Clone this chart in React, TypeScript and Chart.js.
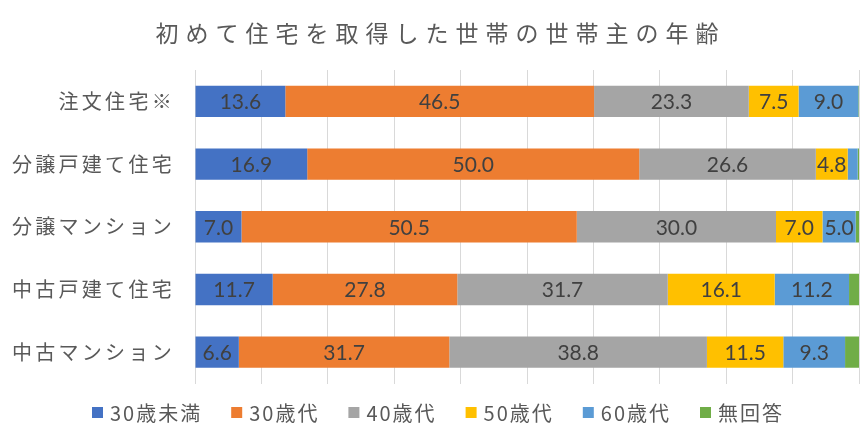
import React, { useEffect, useRef } from 'react';
import { Chart, registerables } from 'chart.js';

Chart.register(...registerables);

const TITLE = '初めて住宅を取得した世帯の世帯主の年齢';
const categories = ['注文住宅※', '分譲戸建て住宅', '分譲マンション', '中古戸建て住宅', '中古マンション'];
const seriesNames = ['30歳未満', '30歳代', '40歳代', '50歳代', '60歳代', '無回答'];
const under30 = [13.6, 16.9, 7.0, 11.7, 6.6];
const age30s = [46.5, 50.0, 50.5, 27.8, 31.7];
const age40s = [23.3, 26.6, 30.0, 31.7, 38.8];
const age50s = [7.5, 4.8, 7.0, 16.1, 11.5];
const age60s = [9.0, 1.5, 5.0, 11.2, 9.3];
const noAnswer = [0.1, 0.2, 0.5, 1.5, 2.1];
const seriesValues = [under30, age30s, age40s, age50s, age60s, noAnswer];
const seriesColors = ['#4472C4', '#ED7D31', '#A5A5A5', '#FFC000', '#5B9BD5', '#70AD47'];
const xMin = 0;
const xMax = 100;
const xStep = 10;

const JP = '"Noto Sans CJK JP", "Noto Sans", sans-serif';

const spacingPlugin = {
  id: 'spacingPlugin',
  beforeUpdate(chart: any) {
    chart.ctx.letterSpacing = '3.3px';
  },
  beforeDraw(chart: any) {
    chart.ctx.letterSpacing = '3.3px';
  },
};

const dataLabelPlugin = {
  id: 'dataLabelPlugin',
  afterDatasetsDraw(chart: any) {
    const ctx = chart.ctx;
    ctx.save();
    ctx.letterSpacing = '0px';
    ctx.font = '21px Lato, "Open Sans", sans-serif';
    ctx.fillStyle = '#404040';
    ctx.textAlign = 'center';
    ctx.textBaseline = 'middle';
    chart.data.datasets.forEach((ds: any, di: number) => {
      if (di === seriesNames.length - 1) return;
      const meta = chart.getDatasetMeta(di);
      meta.data.forEach((bar: any, i: number) => {
        const v = ds.data[i];
        if (v < 3) return;
        const c = bar.getCenterPoint();
        ctx.fillText(v.toFixed(1), c.x, c.y + 1);
      });
    });
    ctx.restore();
  },
};

const titleLegendPlugin = {
  id: 'titleLegendPlugin',
  afterDraw(chart: any) {
    const ctx = chart.ctx;
    // title
    ctx.save();
    ctx.letterSpacing = '7px';
    ctx.font = '23px ' + JP;
    ctx.fillStyle = '#595959';
    ctx.textAlign = 'left';
    ctx.textBaseline = 'middle';
    const tw = ctx.measureText(TITLE).width;
    ctx.fillText(TITLE, 437 - (tw - 7) / 2, 33);
    ctx.restore();

    // legend
    ctx.save();
    ctx.letterSpacing = '2px';
    ctx.font = '20px ' + JP;
    ctx.textAlign = 'left';
    ctx.textBaseline = 'middle';
    const box = 11;
    const gapBox = 7;
    const gapItem = 29;
    const widths = seriesNames.map((n) => ctx.measureText(n).width);
    const total = widths.reduce((a, w) => a + box + gapBox + w, 0) + gapItem * (seriesNames.length - 1);
    let x = 438 - total / 2;
    const cy = 412.5;
    seriesNames.forEach((n, i) => {
      ctx.fillStyle = seriesColors[i];
      ctx.fillRect(x, cy - box / 2, box, box);
      ctx.fillStyle = '#595959';
      ctx.fillText(n, x + box + gapBox, cy + 0.5);
      x += box + gapBox + widths[i] + gapItem;
    });
    ctx.restore();
  },
};

export default function App() {
  const canvasRef = useRef<HTMLCanvasElement | null>(null);

  useEffect(() => {
    if (!canvasRef.current) return;
    const chart = new Chart(canvasRef.current, {
      type: 'bar',
      data: {
        labels: categories,
        datasets: seriesNames.map((name, i) => ({
          label: name,
          data: seriesValues[i],
          backgroundColor: seriesColors[i],
          borderWidth: 0,
          categoryPercentage: 0.5,
          barPercentage: 1,
        })),
      },
      options: {
        indexAxis: 'y',
        responsive: false,
        animation: false,
        layout: { padding: { top: 70, right: 8, bottom: 46.5, left: 0 } },
        plugins: {
          legend: { display: false },
          title: { display: false },
          tooltip: { enabled: false },
        },
        scales: {
          x: {
            stacked: true,
            min: xMin,
            max: xMax,
            ticks: { display: false, stepSize: xStep },
            grid: { color: '#D9D9D9', lineWidth: 1, drawTicks: false },
            border: { display: false },
            afterFit(s: any) {
              s.height = 0;
            },
          },
          y: {
            stacked: true,
            grid: { display: false, drawTicks: false },
            border: { display: false },
            ticks: {
              padding: 20,
              color: '#595959',
              font: { family: JP, size: 20 },
            },
            afterFit(s: any) {
              s.width = 195;
            },
          },
        },
      } as any,
      plugins: [spacingPlugin, dataLabelPlugin, titleLegendPlugin],
    });
    return () => chart.destroy();
  }, []);

  return (
    <div style={{ position: 'absolute', left: 0, top: 0, width: 867, height: 430, background: '#fff' }}>
      <canvas ref={canvasRef} width={867} height={430} style={{ display: 'block' }} />
    </div>
  );
}
